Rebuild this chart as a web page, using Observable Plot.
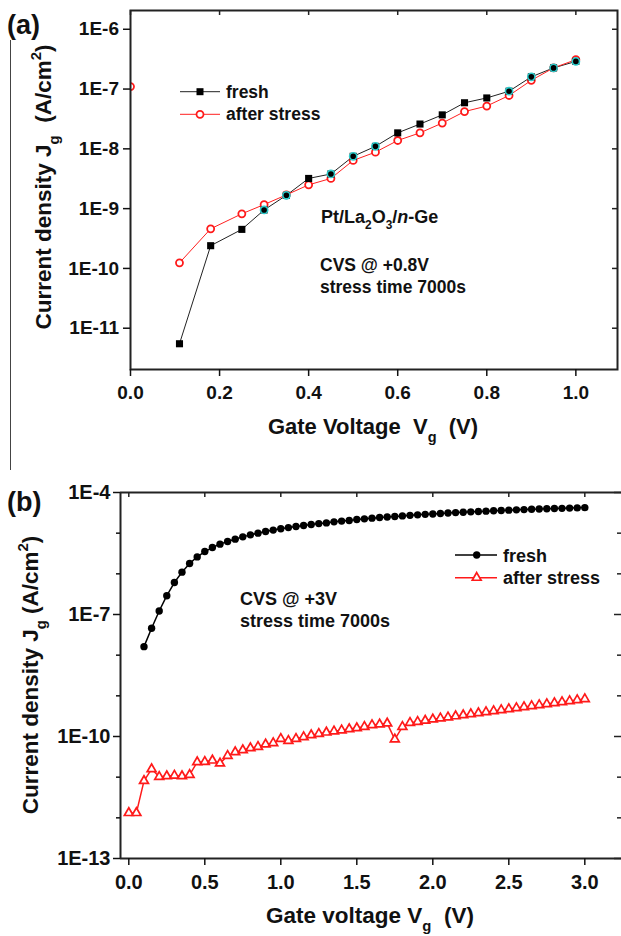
<!DOCTYPE html>
<html><head><meta charset="utf-8">
<script src="https://cdn.jsdelivr.net/npm/d3@7"></script>
<script src="https://cdn.jsdelivr.net/npm/@observablehq/plot@0.6"></script>
<style>
body{margin:0;background:#fff;}
#wrap{position:relative;width:621px;height:936px;overflow:hidden;background:#fff}
#wrap svg{display:block}
</style></head><body><div id="wrap"></div>
<script>
// ---------- Panel (a) data ----------
const aVoltageFresh = [0.11,0.18,0.25,0.30,0.35,0.40,0.45,0.50,0.55,0.60,0.65,0.70,0.75,0.80,0.85,0.90,0.95,1.00];
const aJFresh = [5.5e-12,2.4e-10,4.5e-10,9.5e-10,1.67e-9,3.2e-9,3.8e-9,7.5e-9,1.1e-8,1.85e-8,2.6e-8,3.7e-8,5.9e-8,7.1e-8,9.2e-8,1.6e-7,2.26e-7,2.9e-7];
const aVoltageAfter = [0.00,0.11,0.18,0.25,0.30,0.35,0.40,0.45,0.50,0.55,0.60,0.65,0.70,0.75,0.80,0.85,0.90,0.95,1.00];
const aJAfter = [1.1e-7,1.24e-10,4.6e-10,8.2e-10,1.17e-9,1.7e-9,2.5e-9,3.2e-9,6.4e-9,8.8e-9,1.38e-8,1.85e-8,2.7e-8,4.2e-8,5.2e-8,7.8e-8,1.4e-7,2.26e-7,3.1e-7];
const aOverlapVoltage = [0.30,0.35,0.45,0.50,0.55,0.85,0.90,0.95,1.00];
const aXTicks = [0.0,0.2,0.4,0.6,0.8,1.0];
const aYTicks = [1e-6,1e-7,1e-8,1e-9,1e-10,1e-11];

// ---------- Panel (b) data ----------
const bVoltage = [0.00,0.05,0.10,0.15,0.20,0.25,0.30,0.35,0.40,0.45,0.50,0.55,0.60,0.65,0.70,0.75,0.80,0.85,0.90,0.95,
  1.00,1.05,1.10,1.15,1.20,1.25,1.30,1.35,1.40,1.45,1.50,1.55,1.60,1.65,1.70,1.75,1.80,1.85,1.90,1.95,
  2.00,2.05,2.10,2.15,2.20,2.25,2.30,2.35,2.40,2.45,2.50,2.55,2.60,2.65,2.70,2.75,2.80,2.85,2.90,2.95,3.00];
// fresh starts at 0.10 V
const bJFresh = [1.62e-8,4.6e-8,1.22e-7,2.9e-7,6.1e-7,1.10e-6,1.79e-6,2.61e-6,3.53e-6,4.43e-6,
  5.37e-6,6.22e-6,7.13e-6,8.11e-6,9.09e-6,1.00e-5,1.10e-5,1.19e-5,1.28e-5,1.37e-5,
  1.46e-5,1.54e-5,1.63e-5,1.72e-5,1.79e-5,1.90e-5,1.98e-5,2.05e-5,2.16e-5,2.25e-5,
  2.34e-5,2.42e-5,2.50e-5,2.58e-5,2.66e-5,2.74e-5,2.82e-5,2.90e-5,2.97e-5,3.05e-5,
  3.13e-5,3.20e-5,3.27e-5,3.34e-5,3.41e-5,3.48e-5,3.55e-5,3.61e-5,3.68e-5,3.74e-5,
  3.80e-5,3.86e-5,3.92e-5,3.97e-5,4.03e-5,4.08e-5,4.13e-5,4.19e-5,4.25e-5];
const bJAfter = [1.32e-12,1.32e-12,8.1e-12,1.58e-11,1.02e-11,1.06e-11,1.10e-11,1.06e-11,1.14e-11,2.34e-11,
  2.39e-11,2.58e-11,2.18e-11,3.35e-11,4.13e-11,4.63e-11,5.19e-11,5.58e-11,6.40e-11,6.89e-11,
  8.79e-11,7.85e-11,8.79e-11,9.68e-11,1.08e-10,1.17e-10,1.26e-10,1.34e-10,1.42e-10,1.52e-10,
  1.61e-10,1.73e-10,1.91e-10,1.99e-10,2.10e-10,8.5e-11,1.73e-10,2.18e-10,2.30e-10,2.46e-10,
  2.64e-10,2.81e-10,2.97e-10,3.16e-10,3.35e-10,3.55e-10,3.75e-10,3.99e-10,4.22e-10,4.47e-10,
  4.73e-10,5.01e-10,5.30e-10,5.61e-10,5.93e-10,6.28e-10,6.65e-10,7.03e-10,7.45e-10,7.88e-10,8.34e-10];
const bXTicks = [0.0,0.5,1.0,1.5,2.0,2.5,3.0];
const bYMajor = [1e-4,1e-7,1e-10,1e-13];
const bYMinor = [1e-5,1e-6,1e-8,1e-9,1e-11,1e-12];

// ---------- helpers ----------
const FONT = "'Liberation Sans', Arial, Helvetica, sans-serif";
const INK = "#111";
const sci = d => "1E" + Math.round(Math.log10(d));
const W = 621;

function rich(svg, x, y, parts, {size = 17, anchor = "start", rotate = 0} = {}) {
  const t = d3.select(svg).append("text")
    .attr("transform", `translate(${x},${y}) rotate(${rotate})`)
    .attr("text-anchor", anchor)
    .attr("font-family", FONT).attr("font-weight", "bold")
    .attr("font-size", size).attr("fill", INK)
    .style("white-space", "pre");
  let shift = 0;
  for (const p of parts) {
    const [s, k] = Array.isArray(p) ? p : [p, ""];
    const target = k === "sub" ? size * 0.36 : k === "sup" ? -size * 0.45 : 0;
    const ts = t.append("tspan").attr("dy", target - shift).text(s);
    if (k === "sub" || k === "sup") ts.attr("font-size", size * 0.66);
    if (k === "it") ts.attr("font-style", "italic");
    shift = target;
  }
}

const wrap = document.getElementById("wrap");

// ---------- Panel (a) ----------
{
  const H = 470, mT = 10, mR = 4, mB = 101, mL = 130;
  const fW = W - mL - mR, fH = H - mT - mB;
  const fresh = aVoltageFresh.map((v, i) => ({v, j: aJFresh[i]}));
  const after = aVoltageAfter.map((v, i) => ({v, j: aJAfter[i]}));
  const overlap = fresh.filter(d => aOverlapVoltage.includes(d.v));
  const plot = Plot.plot({
    width: W, height: H, marginTop: mT, marginRight: mR, marginBottom: mB, marginLeft: mL,
    x: {domain: [0, 1.0935], label: null},
    y: {type: "log", domain: [2.04e-12, 2.06e-6], label: null},
    style: {fontFamily: FONT, fontSize: "19px", fontWeight: "bold", color: INK, background: "transparent", overflow: "visible"},
    marks: [
      Plot.line(fresh, {x: "v", y: "j", stroke: "#222", strokeWidth: 1}),
      Plot.line(after.filter(d => d.v > 0), {x: "v", y: "j", stroke: "#ff2020", strokeWidth: 1}),
      Plot.dot(after, {x: "v", y: "j", r: 3.5, stroke: "#ff1a1a", strokeWidth: 1.8, fill: "white", clip: true}),
      Plot.dot(fresh, {x: "v", y: "j", symbol: "square", r: 4, fill: "#000", stroke: null}),
      Plot.dot(overlap, {x: "v", y: "j", r: 3.6, stroke: "#2ccbcb", strokeWidth: 1.6, fill: "none"}),
      Plot.frame({stroke: "#222", strokeWidth: 2}),
      Plot.tickX(aXTicks, {x: d => d, insetBottom: fH - 5, stroke: "#222", strokeWidth: 1.5}),
      Plot.tickY(aYTicks, {y: d => d, insetLeft: fW - 5, stroke: "#222", strokeWidth: 1.5}),
      Plot.axisX(aXTicks, {tickFormat: d => d.toFixed(1), tickSize: 7, tickPadding: 8.5, strokeWidth: 1.5, label: null}),
      Plot.axisY(aYTicks, {tickFormat: sci, tickSize: 7, tickPadding: 4.5, strokeWidth: 1.5, label: null})
    ]
  });
  wrap.appendChild(plot);
  const s = d3.select(plot);
  // page border line at left
  s.append("line").attr("x1", 10.5).attr("x2", 10.5).attr("y1", 40).attr("y2", 470)
    .attr("stroke", "#444").attr("stroke-width", 1);
  // legend
  s.append("line").attr("x1", 180).attr("x2", 220).attr("y1", 91.7).attr("y2", 91.7).attr("stroke", "#222").attr("stroke-width", 1);
  s.append("rect").attr("x", 196.5).attr("y", 88.2).attr("width", 7).attr("height", 7).attr("fill", "#000");
  s.append("line").attr("x1", 180).attr("x2", 220).attr("y1", 114.3).attr("y2", 114.3).attr("stroke", "#ff2020").attr("stroke-width", 1);
  s.append("circle").attr("cx", 200).attr("cy", 114.3).attr("r", 3.5).attr("fill", "white").attr("stroke", "#ff1a1a").attr("stroke-width", 1.8);
  rich(plot, 226, 98, ["fresh"], {size: 17.5});
  rich(plot, 226, 120, ["after stress"], {size: 17.5});
  // annotations
  rich(plot, 321, 223, ["Pt/La", ["2", "sub"], "O", ["3", "sub"], "/", ["n", "it"], "-Ge"], {size: 18});
  rich(plot, 320, 271, ["CVS @ +0.8V"], {size: 17.5});
  rich(plot, 320, 293.3, ["stress time 7000s"], {size: 17.5});
  // titles
  rich(plot, 373, 434, ["Gate Voltage  V", ["g", "sub"], "  (V)"], {size: 22, anchor: "middle"});
  rich(plot, 51, 187, ["Current density J", ["g", "sub"], "  (A/cm", ["2", "sup"], ")"], {size: 22.5, anchor: "middle", rotate: -90});
  rich(plot, 7, 34, ["(a)"], {size: 27});
}

// ---------- Panel (b) ----------
{
  const H = 466, mT = 22, mR = 0, mB = 78, mL = 120;
  const fW = W - mL - mR, fH = H - mT - mB;
  const fresh = bJFresh.map((j, i) => ({v: bVoltage[i + 2], j}));
  const after = bJAfter.map((j, i) => ({v: bVoltage[i], j}));
  const xDom = [-0.0546, 3.2414];
  const plot = Plot.plot({
    width: W, height: H, marginTop: mT, marginRight: mR, marginBottom: mB, marginLeft: mL,
    x: {domain: xDom, label: null},
    y: {type: "log", domain: [1e-13, 1e-4], label: null},
    style: {fontFamily: FONT, fontSize: "20px", fontWeight: "bold", color: INK, background: "transparent", overflow: "visible"},
    marks: [
      Plot.line(fresh, {x: "v", y: "j", stroke: "#000", strokeWidth: 1.5}),
      Plot.dot(fresh, {x: "v", y: "j", r: 3.7, fill: "#000", stroke: null}),
      Plot.line(after, {x: "v", y: "j", stroke: "#ff1a1a", strokeWidth: 1.5}),
      Plot.dot(after, {x: "v", y: "j", symbol: "triangle", r: 3.3, stroke: "#ff1a1a", strokeWidth: 1.7, fill: "white"}),
      Plot.ruleX([xDom[0]], {stroke: "#222", strokeWidth: 2}),
      Plot.ruleY([1e-13, 1e-4], {stroke: "#222", strokeWidth: 2}),
      Plot.tickX(bXTicks, {x: d => d, insetBottom: fH - 5, stroke: "#222", strokeWidth: 1.5}),
      Plot.tickY(bYMajor, {y: d => d, insetLeft: fW - 7, stroke: "#222", strokeWidth: 1.5}),
      Plot.tickY(bYMinor, {y: d => d, insetLeft: fW - 4, stroke: "#222", strokeWidth: 1.5}),
      Plot.axisX(bXTicks, {tickFormat: d => d.toFixed(1), tickSize: 7, tickPadding: 9.5, strokeWidth: 1.5, label: null}),
      Plot.axisY(bYMajor, {tickFormat: sci, tickSize: 7, tickPadding: 3, strokeWidth: 1.5, label: null}),
      Plot.axisY(bYMinor, {tickFormat: () => "", tickSize: 4, strokeWidth: 1.5, label: null})
    ]
  });
  wrap.appendChild(plot);
  const s = d3.select(plot);
  // legend
  s.append("line").attr("x1", 455).attr("x2", 497).attr("y1", 85).attr("y2", 85).attr("stroke", "#000").attr("stroke-width", 1.5);
  s.append("circle").attr("cx", 476.7).attr("cy", 85).attr("r", 3.7).attr("fill", "#000");
  s.append("line").attr("x1", 455).attr("x2", 497).attr("y1", 107.7).attr("y2", 107.7).attr("stroke", "#ff1a1a").attr("stroke-width", 1.5);
  s.append("path").attr("transform", "translate(476.7,107.7)")
    .attr("d", d3.symbol(d3.symbolTriangle, Math.PI * 3.3 * 3.3)())
    .attr("fill", "white").attr("stroke", "#ff1a1a").attr("stroke-width", 1.7);
  rich(plot, 503, 91.7, ["fresh"], {size: 18});
  rich(plot, 503, 114.3, ["after stress"], {size: 18});
  // annotations
  rich(plot, 240, 135, ["CVS @ +3V"], {size: 18});
  rich(plot, 240, 156.7, ["stress time 7000s"], {size: 18});
  // titles
  rich(plot, 370, 453.3, ["Gate voltage V", ["g", "sub"], "  (V)"], {size: 22.5, anchor: "middle"});
  rich(plot, 38, 205, ["Current density J", ["g", "sub"], " (A/cm", ["2", "sup"], ")"], {size: 22.5, anchor: "middle", rotate: -90});
  rich(plot, 7, 41, ["(b)"], {size: 27});
}
</script>
</body></html>
